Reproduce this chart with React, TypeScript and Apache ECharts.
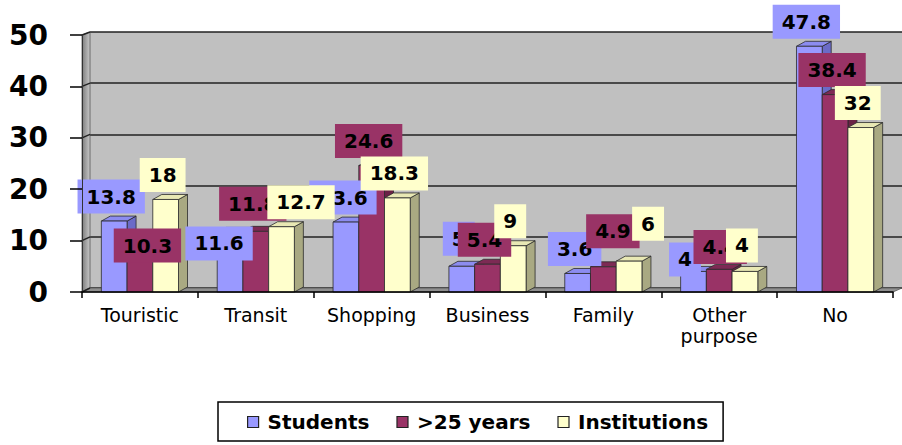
import React, { useEffect, useRef } from "react";
import * as echarts from "echarts";

const categories = ["Touristic", "Transit", "Shopping", "Business", "Family", "Other\npurpose", "No"];
const seriesNames = ["Students", ">25 years", "Institutions"];
const students = [13.8, 11.6, 13.6, 5, 3.6, 4, 47.8];
const over25 = [10.3, 11.8, 24.6, 5.4, 4.9, 4.4, 38.4];
const institutions = [18, 12.7, 18.3, 9, 6, 4, 32];
const yMin = 0;
const yMax = 50;
const yStep = 10;

// per-label nudges (label placement only, as in the reference), [dx, dy] in px
const labelNudgeX = [
  [0, -8, 0, 0, 0, -5.5, 0],
  [10.5, 0, 0, 0, 12.5, 4, 0],
  [0, 22.5, 0, 0, 22, 0, 0],
];
const labelNudgeY = [
  [0, 35.5, 0, -3, 0, 12.5, 0],
  [31, -3, 0, 0, -11, 2, 0],
  [0, 0, 0, 0, -13, -1.5, 0],
];

const COLORS = [
  { front: "#9999ff", top: "#8c8cf0", side: "#6b6bc8" },
  { front: "#993366", top: "#7d2a54", side: "#6a2246" },
  { front: "#ffffcc", top: "#e8e8b4", side: "#a9a982" },
];

const FRONT = { left: 82, right: 9, top: 35, bottom: 153 };
const BACK = { left: 90, right: 0, top: 32, bottom: 157 };
const DEPTH_X = 9;
const DEPTH_Y = -5;
const FONT = "DejaVu Sans";

export default function App() {
  const ref = useRef<HTMLDivElement>(null);
  useEffect(() => {
    if (!ref.current) return;
    const chart = echarts.init(ref.current, null, { renderer: "svg" });
    const allSeries = [students, over25, institutions];

    const makeSeries = (k: number) => ({
      type: "custom",
      name: seriesNames[k],
      xAxisIndex: 0,
      yAxisIndex: 0,
      itemStyle: { color: COLORS[k].front },
      data: allSeries[k].map((v, i) => [i, v]),
      encode: { x: 0, y: 1 },
      renderItem: (params: any, api: any) => {
        const ci = api.value(0);
        const v = api.value(1);
        const top = api.coord([ci, v]);
        const base = api.coord([ci, 0]);
        const band = api.size([1, 0])[0];
        const w = band * 0.222;
        const x0 = top[0] + (k - 1.5) * w;
        const x1 = x0 + w;
        const yT = top[1];
        const yB = base[1];
        const c = COLORS[k];
        const stroke = "#2b2b2b";
        const idx = params.dataIndex;
        return {
          type: "group",
          children: [
            {
              type: "polygon",
              shape: { points: [[x1, yT], [x1 + DEPTH_X, yT + DEPTH_Y], [x1 + DEPTH_X, yB + DEPTH_Y], [x1, yB]] },
              style: { fill: c.side, stroke, lineWidth: 0.8 },
            },
            {
              type: "polygon",
              shape: { points: [[x0, yT], [x0 + DEPTH_X, yT + DEPTH_Y], [x1 + DEPTH_X, yT + DEPTH_Y], [x1, yT]] },
              style: { fill: c.top, stroke, lineWidth: 0.8 },
            },
            {
              type: "rect",
              shape: { x: x0, y: yT, width: w, height: yB - yT },
              style: { fill: c.front, stroke, lineWidth: 0.8 },
            },
            {
              type: "text",
              x: (x0 + x1) / 2 - 3 + labelNudgeX[k][idx],
              y: yT - 24.5 + labelNudgeY[k][idx],
              z2: 10 + k,
              style: {
                text: String(v),
                fill: "#000",
                fontFamily: FONT,
                fontWeight: "bold",
                fontSize: 20,
                align: "center",
                verticalAlign: "middle",
                backgroundColor: c.front,
                padding: [7, 9, 7, 9],
              },
            },
          ],
        };
      },
    });

    chart.setOption({
      animation: false,
      backgroundColor: "#ffffff",
      grid: [
        { ...FRONT, show: false, containLabel: false },
        { ...BACK, show: true, backgroundColor: "#c0c0c0", borderWidth: 0, z: 0 },
      ],
      legend: {
        left: 218,
        top: 402,
        orient: "horizontal",
        itemWidth: 11,
        itemHeight: 11,
        itemGap: 27,
        padding: [10, 15, 9, 29],
        borderColor: "#000",
        borderWidth: 1.5,
        borderRadius: 0,
        textStyle: { fontFamily: FONT, fontWeight: "bold", fontSize: 20, color: "#000", padding: [0, 0, 0, 4] },
        data: seriesNames.map((n, k) => ({
          name: n,
          icon: "rect",
          itemStyle: { color: COLORS[k].front, borderColor: "#222", borderWidth: 1.2 },
        })),
      },
      xAxis: [
        {
          type: "category",
          gridIndex: 0,
          data: categories,
          axisLine: { show: true, lineStyle: { color: "#000", width: 1.5 } },
          axisTick: { show: true, length: 6, interval: 0, lineStyle: { color: "#000", width: 1.5 } },
          axisLabel: { interval: 0, fontFamily: FONT, fontSize: 19, color: "#000", margin: 12, lineHeight: 21 },
          splitLine: { show: false },
          z: 5,
        },
        { type: "category", gridIndex: 1, data: categories, show: false },
      ],
      yAxis: [
        {
          type: "value",
          gridIndex: 0,
          min: yMin,
          max: yMax,
          interval: yStep,
          axisLine: { show: true, lineStyle: { color: "#333", width: 1 } },
          axisTick: { show: true, length: 12, lineStyle: { color: "#000", width: 1.5 } },
          axisLabel: { fontFamily: FONT, fontWeight: "bold", fontSize: 28, color: "#000", margin: 34 },
          splitLine: { show: false },
          z: 5,
        },
        {
          type: "value",
          gridIndex: 1,
          min: yMin,
          max: yMax,
          interval: yStep,
          axisLine: { show: false },
          axisTick: { show: false },
          axisLabel: { show: false },
          splitLine: { show: true, lineStyle: { color: "#222", width: 1.6 } },
        },
      ],
      series: [makeSeries(0), makeSeries(1), makeSeries(2)],
    });

    // 3D walls: left wall and floor, with gridline segments on left wall
    const W = 902;
    const H = 445;
    const fl = FRONT.left;
    const bl = BACK.left;
    const fTop = FRONT.top;
    const fBot = H - FRONT.bottom;
    const bTop = BACK.top;
    const bBot = H - BACK.bottom;
    const fRight = W - FRONT.right;
    const bRight = W - BACK.right;
    const ticks: number[] = [];
    for (let t = yMin; t <= yMax; t += yStep) ticks.push(t);
    const wallLines = ticks.map((t) => {
      const yf = chart.convertToPixel({ yAxisIndex: 0 }, t) as number;
      const yb = chart.convertToPixel({ yAxisIndex: 1 }, t) as number;
      return {
        type: "line",
        z: 2,
        shape: { x1: fl, y1: yf, x2: bl, y2: yb },
        style: { stroke: "#222", lineWidth: 1.4 },
      };
    });
    chart.setOption({
      graphic: [
        {
          type: "polygon",
          z: 1,
          shape: { points: [[fl, fTop], [bl, bTop], [bl, bBot], [fl, fBot]] },
          style: {
            fill: new echarts.graphic.LinearGradient(0, 0, 1, 0, [
              { offset: 0, color: "#7c7c7c" },
              { offset: 1, color: "#c8c8c8" },
            ]),
            stroke: "#555",
            lineWidth: 0.8,
          },
        },
        {
          type: "polygon",
          z: 1,
          shape: { points: [[fl, fBot], [bl, bBot], [bRight, bBot], [fRight, fBot]] },
          style: { fill: "#8f8f8f", stroke: "#555", lineWidth: 0.8 },
        },
        ...wallLines,
      ],
    });

    return () => chart.dispose();
  }, []);
  return <div ref={ref} style={{ width: 902, height: 445, position: "absolute", left: 0, top: 0 }} />;
}
